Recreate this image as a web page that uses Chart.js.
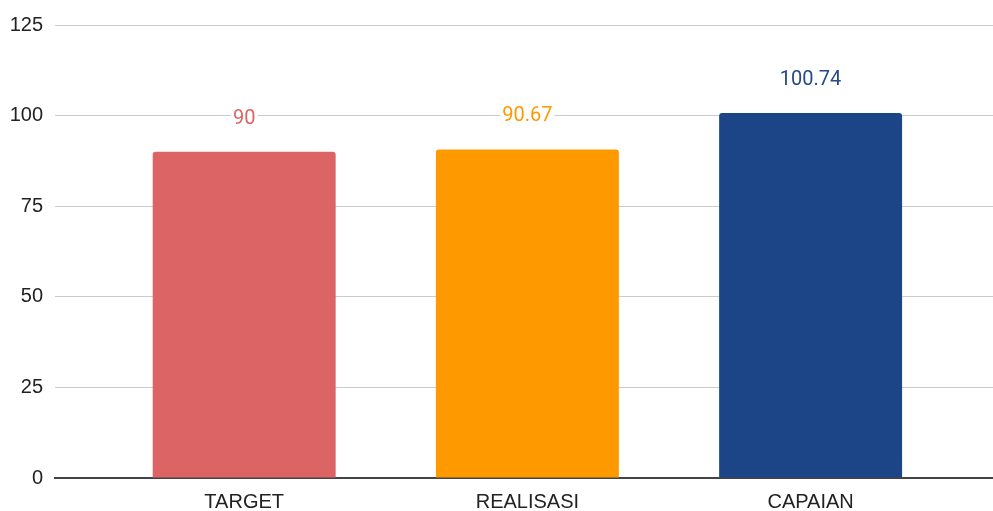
<!DOCTYPE html>
<html>
<head>
<meta charset="utf-8">
<script src="https://cdn.jsdelivr.net/npm/chart.js@4/dist/chart.umd.min.js"></script>
<style>
html,body{margin:0;padding:0;background:#fff;}
#wrap{width:993px;height:511px;position:relative;}
</style>
</head>
<body>
<div id="wrap"><canvas id="c" width="993" height="511"></canvas></div>
<script>
const categories = ['TARGET', 'REALISASI', 'CAPAIAN'];
const values = [90, 90.67, 100.74];
const valueLabels = ['90', '90.67', '100.74'];
const barColors = ['#dd6464', '#ff9900', '#1c4587'];
const labelColors = ['#dd6464', '#ff9900', '#26498a'];
const yTicks = [0, 25, 50, 75, 100, 125];

const points = values.map((v, i) => ({x: i, y: v}));

const dataLabelPlugin = {
  id: 'dataLabels',
  afterDatasetsDraw(chart) {
    const ctx = chart.ctx;
    const meta = chart.getDatasetMeta(0);
    ctx.save();
    ctx.font = '20px Roboto';
    ctx.textAlign = 'center';
    ctx.textBaseline = 'middle';
    meta.data.forEach((bar, i) => {
      const txt = valueLabels[i];
      const y = bar.y - 34;
      const w = ctx.measureText(txt).width;
      ctx.fillStyle = '#ffffff';
      ctx.fillRect(bar.x - w / 2 - 2, y - 10, w + 4, 20);
      ctx.fillStyle = labelColors[i];
      ctx.fillText(txt, bar.x, y + 1);
    });
    ctx.restore();
  }
};

new Chart(document.getElementById('c'), {
  type: 'bar',
  data: {
    datasets: [{
      data: points,
      backgroundColor: barColors,
      borderRadius: 3,
      borderSkipped: 'start',
      barPercentage: 0.646,
      categoryPercentage: 1
    }]
  },
  options: {
    responsive: false,
    animation: false,
    layout: {padding: {top: 25, right: 0, left: 0, bottom: 0}},
    plugins: {legend: {display: false}, tooltip: {enabled: false}},
    scales: {
      x: {
        type: 'linear',
        offset: false,
        min: -0.668,
        max: 2.644,
        afterBuildTicks(scale) {
          scale.ticks = categories.map((c, i) => ({value: i}));
        },
        afterFit(scale) { scale.height = 33; },
        ticks: {
          callback: (v) => categories[v],
          color: '#222222',
          font: {family: '"Liberation Sans", Arial', size: 20},
          padding: 12,
          maxRotation: 0,
          autoSkip: false
        },
        grid: {display: false, drawTicks: false},
        border: {display: true, color: '#444444', width: 2}
      },
      y: {
        min: 0,
        max: 125,
        afterBuildTicks(scale) {
          scale.ticks = yTicks.map(v => ({value: v}));
        },
        afterFit(scale) { scale.width = 55; },
        ticks: {
          color: '#222222',
          font: {family: '"Liberation Sans", Arial', size: 20},
          padding: 12
        },
        grid: {color: '#cccccc', lineWidth: 1, drawTicks: false},
        border: {display: false}
      }
    }
  },
  plugins: [dataLabelPlugin]
});
</script>
</body>
</html>
